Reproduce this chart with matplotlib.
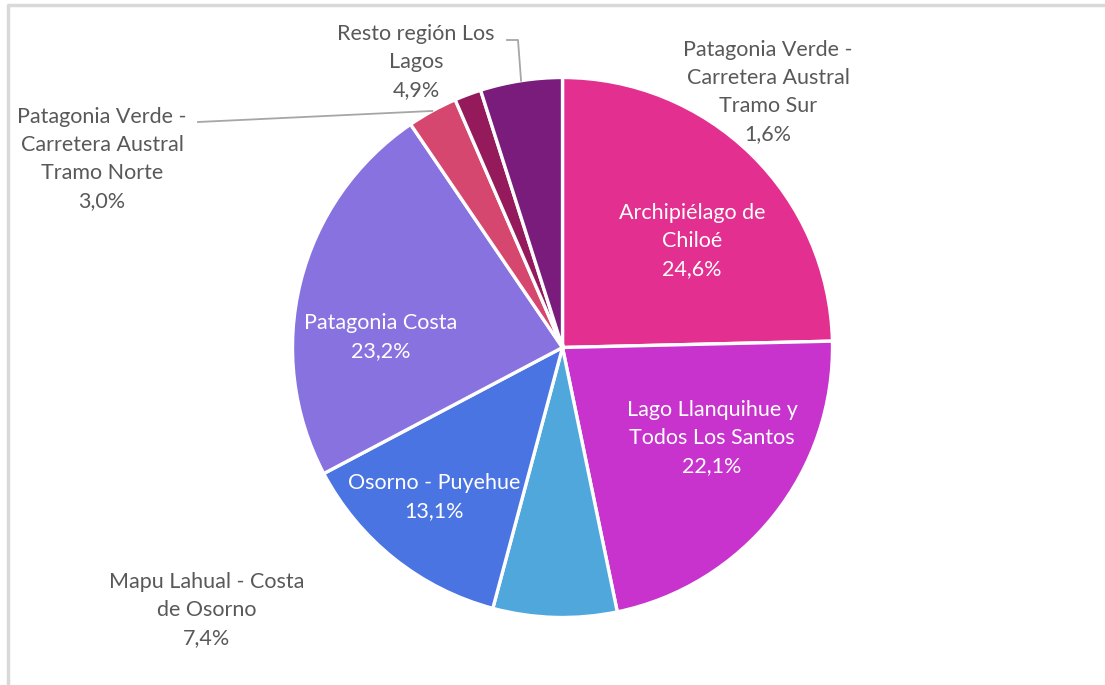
import numpy as np
import matplotlib
matplotlib.use("Agg")
import matplotlib.pyplot as plt
from matplotlib.lines import Line2D

# ---- data ----
categories = [
    "Archipiélago de\nChiloé",
    "Lago Llanquihue y\nTodos Los Santos",
    "Mapu Lahual - Costa\nde Osorno",
    "Osorno - Puyehue",
    "Patagonia Costa",
    "Patagonia Verde -\nCarretera Austral\nTramo Norte",
    "Patagonia Verde -\nCarretera Austral\nTramo Sur",
    "Resto región Los\nLagos",
]
values = [24.6, 22.1, 7.4, 13.1, 23.2, 3.0, 1.6, 4.9]
colors = ["#E32F8F", "#C733CC", "#4FA7DC", "#4A74E2", "#8872E0",
          "#D6476F", "#951A5C", "#7A1C7B"]

W, H = 1105, 685
fig = plt.figure(figsize=(W / 100, H / 100), dpi=100)
ax = fig.add_axes([0, 0, 1, 1])
ax.set_xlim(0, W)
ax.set_ylim(0, H)
ax.axis("off")

cx, cy, R = 562.5, H - 347.5, 270

wedges, _ = ax.pie(values, colors=colors, startangle=90, counterclock=False,
                   center=(cx, cy), radius=R,
                   wedgeprops=dict(edgecolor="white", linewidth=2.4))
ax.set_xlim(0, W)
ax.set_ylim(0, H)

FONT = ["Lato", "DejaVu Sans"]
FS = 15.5
GRAY = "#595959"

def fmt(v):
    return f"{v:.1f}".replace(".", ",") + "%"

def edge_point(i):
    w = wedges[i]
    a = np.deg2rad((w.theta1 + w.theta2) / 2)
    return cx + R * np.cos(a), cy + R * np.sin(a)

def Y(y):
    return H - y

# label positions (pixel coords from top-left): (x, y_center, color)
label_pos = {
    0: (692, 241, "white"),
    1: (712, 438, "white"),
    2: (207, 610, GRAY),
    3: (434, 497, "white"),
    4: (381, 337, "white"),
    5: (102, 159, GRAY),
    6: (768, 92, GRAY),
    7: (416, 62, GRAY),
}
for i, (x, y, c) in label_pos.items():
    ax.text(x, Y(y), categories[i] + "\n" + fmt(values[i]), ha="center",
            va="center", color=c, fontsize=FS, family=FONT, linespacing=1.5)

# leader lines
lc = "#A6A6A6"
px, py = edge_point(7)
ax.add_line(Line2D([507, 518, px], [Y(40), Y(40), py], color=lc, lw=1.3))
px, py = edge_point(5)
ax.add_line(Line2D([198, px], [Y(122), py], color=lc, lw=1.3))

# outer frame (partial, as in the reference)
ax.add_line(Line2D([8, 8, W], [0, Y(4.5), Y(4.5)], color="#D9D9D9", lw=2.5))

fig.savefig("out.png", dpi=100)
